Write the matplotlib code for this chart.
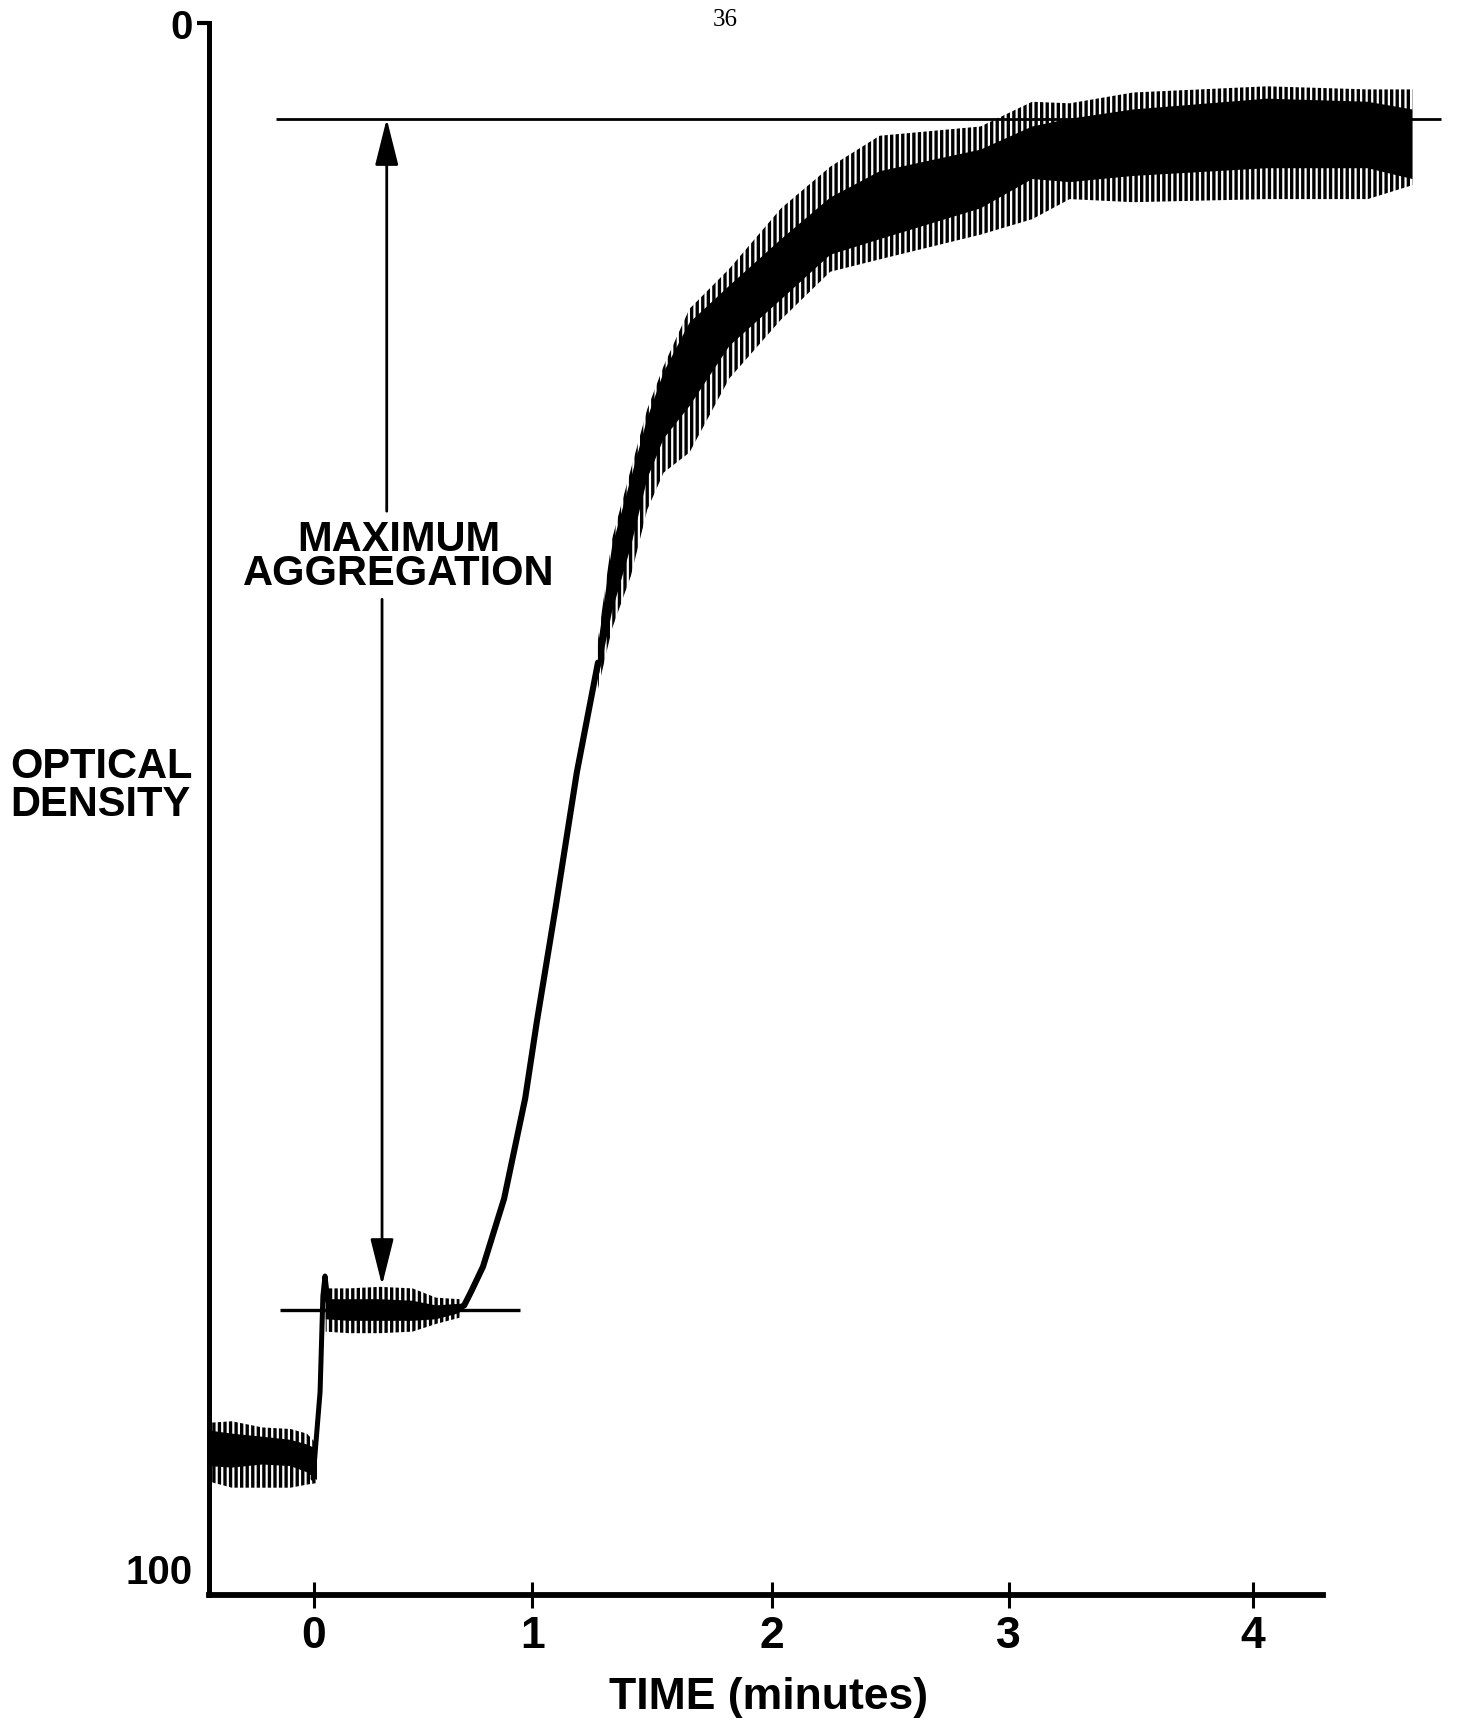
import matplotlib.pyplot as plt
import numpy as np

plt.rcParams['font.family'] = ['Liberation Sans', 'DejaVu Sans']
plt.rcParams['font.weight'] = 'bold'
plt.rcParams['hatch.color'] = 'black'
plt.rcParams['hatch.linewidth'] = 2.4

nan = np.nan

# noisy parts of the recorder trace (time in minutes, optical density units)
# three stretches: before addition, plateau after addition, aggregation curve
noise_t = [-0.447, -0.35, -0.22, -0.10, -0.03, 0.013, 0.03,
           0.05, 0.15, 0.28, 0.42, 0.52, 0.62, 0.90,
           1.21, 1.27, 1.35, 1.42, 1.49, 1.60, 1.77, 1.99, 2.20, 2.41,
           2.84, 3.06, 3.22, 3.49, 4.06, 4.49, 4.68]
core_top = [91.1, 91.3, 91.5, 91.7, 92.0, 92.3, nan,
            82.6, 82.6, 82.6, 82.7, 83.0, 82.9, nan,
            40.3, 33.9, 29.5, 25.6, 22.6, 19.4, 17.0, 14.0, 11.3, 9.6,
            8.2, 6.7, 6.2, 5.6, 4.9, 5.1, 5.6]
core_bot = [93.4, 93.5, 93.3, 93.4, 93.8, 94.3, nan,
            83.9, 84.0, 84.0, 84.0, 83.9, 83.5, nan,
            42.5, 38.1, 33.9, 29.5, 26.9, 24.8, 20.9, 17.9, 15.0, 14.0,
            12.0, 10.1, 10.3, 9.9, 9.4, 9.4, 10.1]
spike_top = [90.6, 90.5, 90.9, 91.0, 91.3, 92.0, nan,
             81.9, 81.9, 81.8, 81.9, 82.5, 82.6, nan,
             39.9, 33.4, 28.9, 25.0, 22.2, 18.5, 15.9, 12.0, 9.3, 7.3,
             6.7, 5.1, 5.2, 4.5, 4.1, 4.3, 4.3]
spike_bot = [94.4, 94.8, 94.8, 94.8, 94.6, 94.5, nan,
             84.7, 84.8, 84.8, 84.7, 84.2, 83.8, nan,
             43.1, 39.2, 35.8, 31.5, 29.1, 27.8, 23.0, 19.2, 16.1, 15.3,
             13.7, 12.7, 11.4, 11.6, 11.4, 11.4, 10.5]

# clean parts of the trace: jump on addition, then the steep rise
step_t = [-0.004, 0.026, 0.038, 0.047, 0.060]
step_od = [94.2, 88.6, 82.4, 81.1, 82.8]
rise_t = [0.60, 0.64, 0.67, 0.72, 0.81, 0.90, 0.95, 1.03, 1.12, 1.21]
rise_od = [83.3, 83.0, 82.1, 80.5, 76.1, 69.6, 64.6, 57.2, 48.5, 41.4]

# reference levels
max_level = 6.2
base_level = 83.3
max_line_t = (-0.16, 4.80)
base_line_t = (-0.145, 0.878)

# hand-drawn time ticks are not evenly spaced on the original
x_tick_pos = [0, 0.93, 1.95, 2.96, 4.0]
x_tick_lab = ['0', '1', '2', '3', '4']
y_ticks = [0, 100]


fig = plt.figure(figsize=(14.64, 17.24), dpi=100)
ax = fig.add_axes([0.1428, 0.0742, 0.8572, 0.9119])

ax.fill_between(noise_t, spike_top, spike_bot, facecolor='none',
                edgecolor='black', hatch='|||', lw=0)
ax.fill_between(noise_t, core_top, core_bot, color='black', lw=0)
ax.plot(step_t, step_od, 'k-', lw=3.6, solid_capstyle='round')
ax.plot(rise_t, rise_od, 'k-', lw=4.4, solid_capstyle='round')

ax.hlines(max_level, *max_line_t, color='black', lw=2.0)
ax.hlines(base_level, *base_line_t, color='black', lw=2.4)

# double arrow, broken by the label
arrow = dict(arrowstyle='-|>,head_length=0.8,head_width=0.2',
             color='black', lw=2.0, shrinkA=0, shrinkB=0, mutation_scale=36)
ax.annotate('', xy=(0.31, max_level), xytext=(0.31, 31.6), arrowprops=arrow)
ax.annotate('', xy=(0.29, 81.7), xytext=(0.29, 37.3), arrowprops=arrow)
ax.text(0.36, 34.5, 'MAXIMUM\nAGGREGATION', ha='center', va='center',
        multialignment='center', fontsize=30, linespacing=0.8)

ax.set_xlim(-0.447, 4.90)
ax.set_ylim(101.75, 0)

for side in ['top', 'right']:
    ax.spines[side].set_visible(False)
ax.spines['left'].set_linewidth(3.6)
ax.spines['bottom'].set_linewidth(4.2)
ax.spines['bottom'].set_bounds(-0.447, 4.30)

ax.set_xticks(x_tick_pos)
ax.set_xticklabels(x_tick_lab)
ax.tick_params(axis='x', direction='inout', length=19, width=2.2,
               labelsize=32, pad=5)
ax.set_yticks(y_ticks)
ax.set_yticklabels([str(v) for v in y_ticks])
ax.tick_params(axis='y', which='major', length=0, pad=12, labelsize=29)
ax.yaxis.remove_overlapping_locs = False
ax.set_yticks([0], minor=True)
ax.tick_params(axis='y', which='minor', length=9, width=3, direction='out')

fig.text(0.0068, 0.544, 'OPTICAL\nDENSITY', ha='left', va='center',
         fontsize=30, linespacing=0.92)
fig.text(0.5253, 0.0151, 'TIME (minutes)', ha='center', va='center', fontsize=32)
fig.text(0.4952, 0.9884, '36', ha='center', va='center', fontsize=18,
         family='Liberation Serif', weight='normal')

fig.savefig('out.png', dpi=100)
